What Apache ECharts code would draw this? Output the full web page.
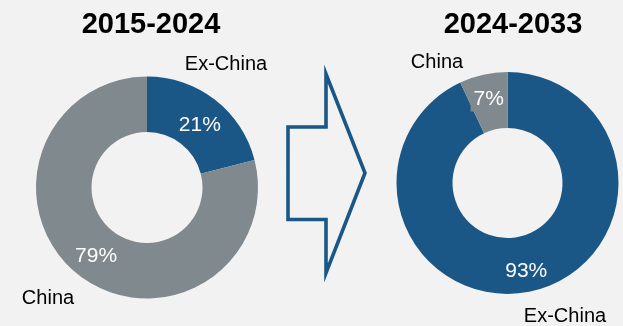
<!DOCTYPE html>
<html>
<head>
<meta charset="utf-8">
<script src="https://cdn.jsdelivr.net/npm/echarts@6/dist/echarts.min.js"></script>
<style>
  html, body { margin: 0; padding: 0; background: #f2f2f2; }
  #chart { width: 623px; height: 326px; }
</style>
</head>
<body>
<div id="chart"></div>
<script>
// Share of growth by region, two periods
const regions = ['Ex-China', 'China'];
const periodTitles = ['2015-2024', '2024-2033'];
const share2015to2024 = [21, 79];
const share2024to2033 = [93, 7];

const BLUE = '#1a5787';
const GREY = '#80898e';
const FONT = '"Liberation Sans", Arial, sans-serif';

const colorFor = { 'Ex-China': BLUE, 'China': GREY };

function sliceData(values) {
  return regions.map((name, i) => ({
    name,
    value: values[i],
    itemStyle: { color: colorFor[name] }
  }));
}

// Positions of the region name labels around each donut
const nameSpots = [
  { 'Ex-China': [226, 64], 'China': [48, 298] },
  { 'Ex-China': [565, 316], 'China': [437, 62] }
];

// Small nudges for the percentage labels inside the rings
const pctNudges = [
  { 'Ex-China': [0, 6], 'China': [2, 1] },
  { 'Ex-China': [0, 4], 'China': [0, 0] }
];

function donut(values, center, radius, nudges, pctLabelExtra) {
  return {
    type: 'pie',
    center,
    radius,
    startAngle: 90,
    clockwise: true,
    silent: true,
    avoidLabelOverlap: false,
    data: sliceData(values).map(d => {
      const extra = pctLabelExtra[d.name];
      return extra ? Object.assign({}, d, { label: extra }) : d;
    }),
    label: {
      show: true,
      position: 'inside',
      formatter: '{c}%',
      color: '#ffffff',
      fontFamily: FONT,
      fontSize: 21,
      overflow: 'none'
    },
    labelLine: { show: false },
    labelLayout: function (p) {
      const n = nudges[regions[p.dataIndex]];
      return { dx: n[0], dy: n[1] };
    }
  };
}

function nameRing(values, center, radius, spots) {
  return {
    type: 'pie',
    center,
    radius,
    startAngle: 90,
    clockwise: true,
    silent: true,
    z: 1,
    data: sliceData(values).map(d => Object.assign({}, d, {
      itemStyle: { color: 'rgba(0,0,0,0)' }
    })),
    label: {
      show: true,
      position: 'outside',
      formatter: '{b}',
      color: '#000000',
      fontFamily: FONT,
      fontSize: 20,
      overflow: 'none',
      width: 120
    },
    labelLine: { show: false },
    labelLayout: function (p) {
      const spot = spots[regions[p.dataIndex]];
      return { x: spot[0], y: spot[1], align: 'center', verticalAlign: 'middle' };
    }
  };
}

const leftCenter = [147, 187.5];
const rightCenter = [507.5, 183];

const chart = echarts.init(document.getElementById('chart'), null, { renderer: 'canvas' });

chart.setOption({
  backgroundColor: '#f2f2f2',
  animation: false,
  title: [
    {
      text: periodTitles[0],
      left: 146,
      top: 5,
      textAlign: 'center',
      textStyle: { fontFamily: FONT, fontSize: 29, fontWeight: 'bold', color: '#000000' }
    },
    {
      text: periodTitles[1],
      left: 508,
      top: 5,
      textAlign: 'center',
      textStyle: { fontFamily: FONT, fontSize: 29, fontWeight: 'bold', color: '#000000' }
    }
  ],
  graphic: [
    {
      // Block arrow pointing from the earlier period to the later one
      type: 'polygon',
      shape: {
        points: [
          [288, 127], [326, 127], [326, 74], [365, 173],
          [326, 273], [326, 219.5], [288, 219.5]
        ]
      },
      style: { fill: 'none', stroke: BLUE, lineWidth: 3.6, lineJoin: 'miter' },
      silent: true
    }
  ],
  series: [
    donut(share2015to2024, leftCenter, [55.5, 111], pctNudges[0], {}),
    nameRing(share2015to2024, leftCenter, [55.5, 111], nameSpots[0]),
    donut(share2024to2033, rightCenter, [55, 111], pctNudges[1], {
      'China': { backgroundColor: GREY, padding: [2, 3] }
    }),
    nameRing(share2024to2033, rightCenter, [55, 111], nameSpots[1])
  ]
});
</script>
</body>
</html>
